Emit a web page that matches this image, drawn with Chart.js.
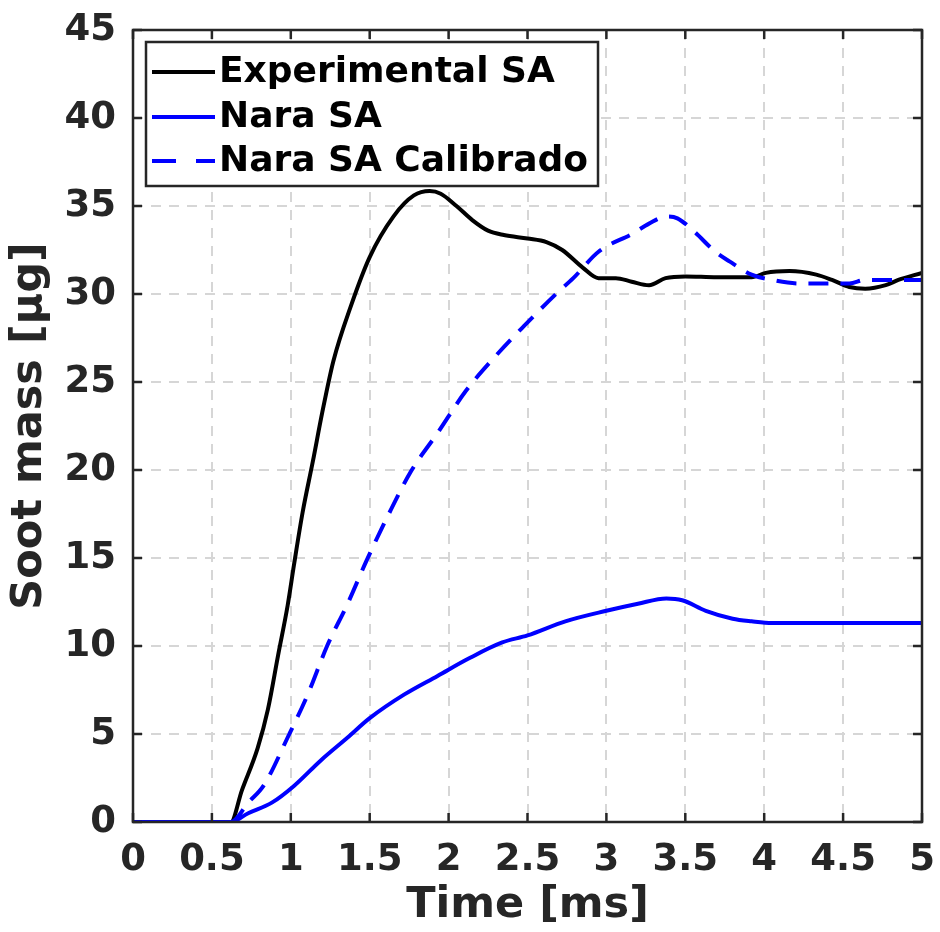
<!DOCTYPE html>
<html>
<head>
<meta charset="utf-8">
<script src="https://cdn.jsdelivr.net/npm/chart.js@4"></script>
<style>
  html, body { margin: 0; padding: 0; background: #fff; }
  #wrap { width: 940px; height: 932px; }
</style>
</head>
<body>
<div id="wrap"><canvas id="chart" width="940" height="932"></canvas></div>
<script>
// time [ms] and soot mass [ug]
const expTime = [0, 0.62, 0.69, 0.79, 0.855, 0.92, 0.98, 1.02, 1.075, 1.14, 1.2, 1.27, 1.38, 1.5, 1.65, 1.78, 1.88, 1.95, 2.05, 2.15, 2.25, 2.35, 2.5, 2.62, 2.72, 2.85, 2.95, 3.06, 3.16, 3.27, 3.375, 3.5, 3.7, 3.92, 4.01, 4.16, 4.33, 4.43, 4.54, 4.64, 4.77, 4.85, 5.0];
const expMass = [0, 0, 1.8, 4.2, 6.4, 9.5, 12.3, 14.6, 17.6, 20.5, 23.3, 26.2, 29.3, 32.1, 34.4, 35.6, 35.85, 35.7, 35.0, 34.2, 33.6, 33.35, 33.15, 32.95, 32.5, 31.5, 30.9, 30.9, 30.7, 30.5, 30.9, 31.0, 30.95, 30.95, 31.2, 31.3, 31.1, 30.8, 30.4, 30.3, 30.5, 30.8, 31.2];

const naraTime = [0, 0.62, 0.73, 0.88, 1.02, 1.19, 1.36, 1.5, 1.72, 1.93, 2.13, 2.34, 2.5, 2.74, 3.0, 3.2, 3.38, 3.48, 3.63, 3.8, 3.92, 4.05, 5.0];
const naraMass = [0, 0, 0.5, 1.1, 2.05, 3.5, 4.8, 5.9, 7.25, 8.3, 9.3, 10.2, 10.6, 11.4, 12.0, 12.4, 12.7, 12.6, 12.0, 11.55, 11.4, 11.3, 11.3];

const calTime = [0, 0.62, 0.73, 0.83, 0.98, 1.11, 1.23, 1.36, 1.48, 1.61, 1.76, 1.93, 2.11, 2.3, 2.48, 2.68, 2.79, 2.95, 3.17, 3.27, 3.38, 3.45, 3.55, 3.69, 3.78, 3.92, 4.05, 4.22, 4.37, 4.54, 4.64, 4.79, 5.0];
const calMass = [0, 0, 1.1, 2.1, 4.8, 7.3, 10, 12.4, 14.85, 17.3, 19.9, 22.1, 24.5, 26.5, 28.2, 30.0, 30.9, 32.4, 33.45, 34.0, 34.4, 34.3, 33.6, 32.4, 31.85, 31.1, 30.8, 30.6, 30.6, 30.6, 30.8, 30.8, 30.8];

const seriesNames = ['Experimental SA', 'Nara SA', 'Nara SA Calibrado'];
const xLabel = 'Time [ms]';
const yLabel = 'Soot mass [\u03bcg]';

const FONT = '"DejaVu Sans", sans-serif';
const AXIS = '#262626';

function pts(t, v) {
    return t.map((x, i) => ({ x: x, y: v[i] }));
}

// matlab style box with inward ticks
const boxPlugin = {
    id: 'box',
    afterDatasetsDraw(chart) {
        const ctx = chart.ctx;
        const a = chart.chartArea;
        const xs = chart.scales.x, ys = chart.scales.y;
        ctx.save();
        ctx.strokeStyle = AXIS;
        ctx.lineWidth = 2.5;
        ctx.setLineDash([]);
        ctx.strokeRect(a.left, a.top, a.right - a.left, a.bottom - a.top);
        ctx.beginPath();
        xs.ticks.forEach(t => {
            const p = xs.getPixelForValue(t.value);
            ctx.moveTo(p, a.bottom); ctx.lineTo(p, a.bottom - 9);
            ctx.moveTo(p, a.top); ctx.lineTo(p, a.top + 9);
        });
        ys.ticks.forEach(t => {
            const p = ys.getPixelForValue(t.value);
            ctx.moveTo(a.left, p); ctx.lineTo(a.left + 9, p);
            ctx.moveTo(a.right, p); ctx.lineTo(a.right - 9, p);
        });
        ctx.stroke();
        ctx.restore();
    },
    afterDraw(chart) {
        // legend box
        const ctx = chart.ctx;
        const bx = 146, by = 42, bw = 452, bh = 144;
        ctx.save();
        ctx.fillStyle = '#fff';
        ctx.fillRect(bx, by, bw, bh);
        ctx.strokeStyle = AXIS;
        ctx.lineWidth = 2.5;
        ctx.strokeRect(bx, by, bw, bh);
        const rows = [72, 117, 161];
        chart.data.datasets.forEach((ds, i) => {
            ctx.beginPath();
            ctx.strokeStyle = ds.borderColor;
            ctx.lineWidth = 4;
            ctx.setLineDash(ds.borderDash ? [24, 20] : []);
            ctx.moveTo(152, rows[i]);
            ctx.lineTo(215, rows[i]);
            ctx.stroke();
            ctx.setLineDash([]);
            ctx.fillStyle = '#000';
            ctx.font = 'bold 36px ' + FONT;
            ctx.textBaseline = 'middle';
            ctx.fillText(ds.label, 219, rows[i] + 1);
        });
        ctx.restore();
    }
};

const tickFmt = v => String(Number(v.toFixed(2)));

new Chart(document.getElementById('chart'), {
    type: 'line',
    data: {
        datasets: [{
            label: seriesNames[0],
            data: pts(expTime, expMass),
            borderColor: '#000000',
            borderWidth: 4,
            order: 3,
        }, {
            label: seriesNames[1],
            data: pts(naraTime, naraMass),
            borderColor: '#0000ff',
            borderWidth: 4,
            order: 2,
        }, {
            label: seriesNames[2],
            data: pts(calTime, calMass),
            borderColor: '#0000ff',
            borderWidth: 4,
            borderDash: [20, 12],
            order: 1,
        }],
    },
    options: {
        responsive: false,
        animation: false,
        layout: { padding: { top: 30, right: 18, left: 0, bottom: 0 } },
        elements: {
            point: { radius: 0 },
            line: { cubicInterpolationMode: 'monotone', fill: false },
        },
        plugins: {
            legend: { display: false },
            tooltip: { enabled: false },
        },
        scales: {
            x: {
                type: 'linear',
                min: 0, max: 5,
                afterFit(s) { s.height = 110; s.paddingLeft = 0; s.paddingRight = 0; },
                ticks: { stepSize: 0.5, color: AXIS, padding: 16, callback: tickFmt, maxRotation: 0, autoSkip: false, font: { family: FONT, size: 37, weight: 'bold' } },
                grid: { color: '#d6d6d6', lineWidth: 2, drawTicks: false },
                border: { display: false, dash: [10, 8] },
                title: { display: true, text: xLabel, color: AXIS, padding: { top: 0, bottom: 0 }, font: { family: FONT, size: 43, weight: 'bold' } },
            },
            y: {
                min: 0, max: 45,
                afterFit(s) { s.width = 133; s.paddingTop = 0; s.paddingBottom = 0; },
                ticks: { stepSize: 5, color: AXIS, padding: 17, callback: tickFmt, font: { family: FONT, size: 37, weight: 'bold' } },
                grid: { color: '#d6d6d6', lineWidth: 2, drawTicks: false },
                border: { display: false, dash: [10, 8] },
                title: { display: true, text: yLabel, color: AXIS, padding: { top: 4, bottom: 0 }, font: { family: FONT, size: 43, weight: 'bold' } },
            },
        },
    },
    plugins: [boxPlugin],
});
</script>
</body>
</html>
